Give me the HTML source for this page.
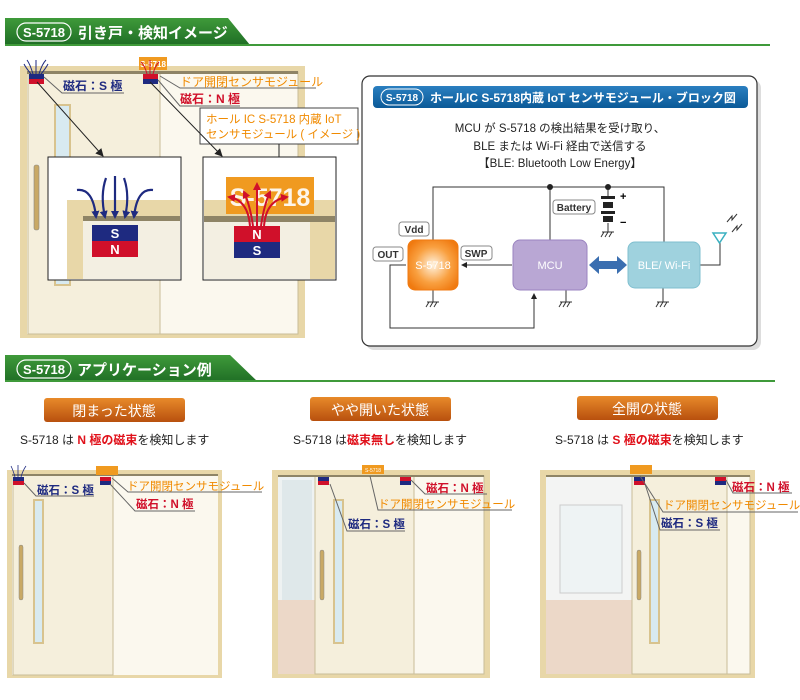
<!DOCTYPE html>
<html><head><meta charset="utf-8"><style>
html,body{margin:0;padding:0;background:#fff;width:800px;height:700px;overflow:hidden}
svg text{font-family:"Liberation Sans","Noto Sans CJK JP",sans-serif}
</style></head><body>
<svg width="800" height="700" viewBox="0 0 800 700" xmlns="http://www.w3.org/2000/svg">
<defs>
<linearGradient id="gh" x1="0" y1="0" x2="0" y2="1"><stop offset="0" stop-color="#3f9a3a"/><stop offset="1" stop-color="#1f6e25"/></linearGradient>
<linearGradient id="bt" x1="0" y1="0" x2="0" y2="1"><stop offset="0" stop-color="#e88a2a"/><stop offset="1" stop-color="#b8500e"/></linearGradient>
<linearGradient id="bl" x1="0" y1="0" x2="0" y2="1"><stop offset="0" stop-color="#2a7fc0"/><stop offset="1" stop-color="#0b5a98"/></linearGradient>
<radialGradient id="og" cx="0.5" cy="0.5" r="0.6"><stop offset="0" stop-color="#fff3e0"/><stop offset="0.6" stop-color="#f9a040"/><stop offset="1" stop-color="#f07a10"/></radialGradient>
<marker id="ar" markerWidth="8" markerHeight="8" refX="7" refY="4" orient="auto" markerUnits="userSpaceOnUse"><path d="M0,0 L8,4 L0,8z" fill="#222"/></marker>
<marker id="ab" markerWidth="8" markerHeight="8" refX="6" refY="4" orient="auto" markerUnits="userSpaceOnUse"><path d="M0,0 L8,4 L0,8z" fill="#1e2a80"/></marker>
<marker id="arr" markerWidth="8" markerHeight="8" refX="6" refY="4" orient="auto" markerUnits="userSpaceOnUse"><path d="M0,0 L8,4 L0,8z" fill="#d0102a"/></marker>
</defs>

<!-- Header 1 -->
<path d="M5,18 H228 L250,45 H5z" fill="url(#gh)"/>
<rect x="5" y="44" width="765" height="2" fill="#3f9a3a"/>
<rect x="17" y="23" width="54" height="18" rx="9" fill="none" stroke="#fff" stroke-width="1.2"/>
<text x="44" y="37" font-size="13" font-weight="bold" fill="#fff" text-anchor="middle">S-5718</text>
<text x="78" y="38" font-size="15" font-weight="bold" fill="#fff">引き戸・検知イメージ</text>

<!-- Top door -->
<rect x="20" y="66" width="285" height="272" fill="#e8d7a8"/>
<rect x="27" y="72" width="271" height="262" fill="#faf6ea"/>
<rect x="28" y="72" width="132" height="262" fill="#f5efdc" stroke="#c9bd98" stroke-width="1"/>
<rect x="160" y="72" width="138" height="262" fill="#fbf8ee" stroke="#c9bd98" stroke-width="1"/>
<rect x="55" y="105" width="15" height="180" fill="#d8eaf0" stroke="#d8c38e" stroke-width="2"/>
<rect x="34" y="165" width="5" height="65" rx="2" fill="#c9a965" stroke="#888" stroke-width="0.6"/>
<rect x="27" y="71" width="271" height="3" fill="#8e8466"/>
<rect x="29" y="74" width="15" height="5" fill="#1e2a80"/><rect x="29" y="79" width="15" height="5" fill="#d0102a"/>
<rect x="143" y="74" width="15" height="5" fill="#d0102a"/><rect x="143" y="79" width="15" height="5" fill="#1e2a80"/>
<rect x="139" y="57" width="28" height="13" fill="#f09a20"/>
<text x="153" y="67" font-size="8" font-weight="bold" fill="#fff" text-anchor="middle">S-5718</text>
<g stroke="#1e2a80" stroke-width="1" fill="none"><path d="M36,74 V60 M33,74 Q30,64 27,60 M39,74 Q42,64 46,60 M31,74 Q26,68 24,64 M41,74 Q46,68 48,64"/></g>
<g stroke="#d0102a" stroke-width="1" fill="none"><path d="M150,74 V60 M147,74 Q145,66 141,62 M153,74 Q155,66 159,62"/></g>
<path d="M44,77 L62,93 H124" stroke="#666" fill="none"/>
<text x="63" y="90" font-size="12" font-weight="bold" fill="#1e2a80">磁石：S 極</text>
<path d="M160,76 L180,88 H316" stroke="#666" fill="none"/>
<text x="180" y="86" font-size="12" fill="#f08a00">ドア開閉センサモジュール</text>
<path d="M158,80 L180,106 H240" stroke="#666" fill="none"/>
<text x="180" y="103" font-size="12" font-weight="bold" fill="#d0102a">磁石：N 極</text>
<rect x="200" y="108" width="158" height="36" fill="#fff" stroke="#444"/>
<text x="206" y="123" font-size="11.5" fill="#f08a00">ホール IC  S-5718 内蔵 IoT</text>
<text x="206" y="138" font-size="11.5" fill="#f08a00">センサモジュール ( イメージ )</text>
<line x1="37" y1="82" x2="103" y2="156" stroke="#222" marker-end="url(#ar)"/>
<line x1="150" y1="82" x2="222" y2="156" stroke="#222" marker-end="url(#ar)"/>
<line x1="279" y1="144" x2="279" y2="175" stroke="#222" marker-end="url(#ar)"/>
<!-- inset left -->
<rect x="48" y="157" width="133" height="123" fill="#fff" stroke="#222"/>
<rect x="67" y="200" width="113" height="79" fill="#e8d7a8"/>
<rect x="83" y="219" width="97" height="60" fill="#f3efe2"/>
<rect x="83" y="216" width="97" height="5" fill="#8e8466"/>
<rect x="92" y="225" width="46" height="16" fill="#1e2a80"/><rect x="92" y="241" width="46" height="16" fill="#d0102a"/>
<text x="115" y="238" font-size="13" font-weight="bold" fill="#fff" text-anchor="middle">S</text>
<text x="115" y="254" font-size="13" font-weight="bold" fill="#fff" text-anchor="middle">N</text>
<g stroke="#1e2a80" stroke-width="2.2" fill="none">
<path d="M115,176 V217" marker-end="url(#ab)"/>
<path d="M106,178 Q100,195 105,217" marker-end="url(#ab)"/>
<path d="M124,178 Q130,195 125,217" marker-end="url(#ab)"/>
<path d="M77,190 Q93,188 96,217" marker-end="url(#ab)"/>
<path d="M153,190 Q137,188 134,217" marker-end="url(#ab)"/>
</g>
<!-- inset right -->
<rect x="203" y="157" width="133" height="123" fill="#fff" stroke="#222"/>
<rect x="204" y="200" width="131" height="79" fill="#e8d7a8"/>
<rect x="204" y="218" width="106" height="61" fill="#f3efe2"/>
<rect x="204" y="216" width="131" height="6" fill="#8e8466"/>
<rect x="226" y="177" width="88" height="37" fill="#f09a20"/>
<text x="270" y="206" font-size="25" font-weight="bold" fill="#fff" text-anchor="middle" opacity="0.9">S-5718</text>
<rect x="234" y="226" width="46" height="16" fill="#d0102a"/><rect x="234" y="242" width="46" height="16" fill="#1e2a80"/>
<text x="257" y="239" font-size="13" font-weight="bold" fill="#fff" text-anchor="middle">N</text>
<text x="257" y="255" font-size="13" font-weight="bold" fill="#fff" text-anchor="middle">S</text>
<g stroke="#d0102a" stroke-width="2" fill="none">
<path d="M257,226 V184" marker-end="url(#arr)"/>
<path d="M250,226 Q248,200 229,197" marker-end="url(#arr)"/>
<path d="M264,226 Q266,200 287,197" marker-end="url(#arr)"/>
<path d="M253,226 Q250,205 244,192" marker-end="url(#arr)"/>
<path d="M261,226 Q264,205 270,192" marker-end="url(#arr)"/>
</g>

<!-- Block diagram -->
<rect x="366" y="80" width="395" height="270" rx="8" fill="#bbb" opacity="0.5"/>
<rect x="362" y="76" width="395" height="270" rx="8" fill="#fff" stroke="#333" stroke-width="1.2"/>
<rect x="373" y="86" width="375" height="22" rx="4" fill="url(#bl)"/>
<rect x="381" y="89" width="42" height="16" rx="8" fill="none" stroke="#fff"/>
<text x="402" y="101" font-size="10" font-weight="bold" fill="#fff" text-anchor="middle">S-5718</text>
<text x="430" y="102" font-size="12" font-weight="bold" fill="#fff">ホールIC S-5718内蔵 IoT センサモジュール・ブロック図</text>
<text x="560" y="132" font-size="11.5" fill="#222" text-anchor="middle">MCU が S-5718 の検出結果を受け取り、</text>
<text x="560" y="150" font-size="11.5" fill="#222" text-anchor="middle">BLE または Wi-Fi 経由で送信する</text>
<text x="560" y="167" font-size="11.5" fill="#222" text-anchor="middle">【BLE: Bluetooth Low Energy】</text>
<g stroke="#333" stroke-width="1" fill="none">
<path d="M433,244 V187 H664 V244"/>
<path d="M550,187 V244"/>
<path d="M608,187 V198 M608,223 V232"/>
<path d="M406,265 H390 V328 H534 V295"/>
<path d="M512,265 H465"/>
<path d="M700,265 H720 V243"/>
<path d="M433,290 V302 M566,290 V302 M663,288 V302"/>
</g>
<path d="M534,293 l-3,6 h6z" fill="#222"/>
<path d="M461,265 l6,-3 v6z" fill="#222"/>
<circle cx="550" cy="187" r="3" fill="#222"/><circle cx="608" cy="187" r="3" fill="#222"/>
<rect x="601" y="196" width="14" height="3" fill="#222"/><rect x="603" y="202" width="10" height="6" fill="#222"/>
<rect x="601" y="211" width="14" height="3" fill="#222"/><rect x="603" y="216" width="10" height="6" fill="#222"/>
<text x="620" y="200" font-size="11" font-weight="bold">+</text><text x="620" y="226" font-size="11" font-weight="bold">−</text>
<g stroke="#333" fill="none"><path d="M427,302 h12 M429,302 l-3,5 M433,302 l-3,5 M437,302 l-3,5"/><path d="M560,302 h12 M562,302 l-3,5 M566,302 l-3,5 M570,302 l-3,5"/><path d="M657,302 h12 M659,302 l-3,5 M663,302 l-3,5 M667,302 l-3,5"/><path d="M602,232 h12 M604,232 l-3,5 M608,232 l-3,5 M612,232 l-3,5"/></g>
<rect x="553" y="200" width="42" height="14" rx="3" fill="#fff" stroke="#888"/><text x="574" y="211" font-size="10" font-weight="bold" text-anchor="middle" fill="#333">Battery</text>
<rect x="399" y="222" width="30" height="14" rx="3" fill="#fff" stroke="#888"/><text x="414" y="233" font-size="10" font-weight="bold" text-anchor="middle" fill="#333">Vdd</text>
<rect x="373" y="247" width="30" height="14" rx="3" fill="#fff" stroke="#888"/><text x="388" y="258" font-size="10" font-weight="bold" text-anchor="middle" fill="#333">OUT</text>
<rect x="461" y="246" width="31" height="14" rx="3" fill="#fff" stroke="#888"/><text x="476" y="257" font-size="10" font-weight="bold" text-anchor="middle" fill="#333">SWP</text>
<rect x="408" y="240" width="50" height="50" rx="7" fill="url(#og)" stroke="#f07a10"/>
<text x="433" y="269" font-size="11" fill="#fff" text-anchor="middle">S-5718</text>
<rect x="513" y="240" width="74" height="50" rx="7" fill="#b9a7d4" stroke="#9a83c0"/>
<text x="550" y="269" font-size="11" fill="#fff" text-anchor="middle">MCU</text>
<rect x="628" y="242" width="72" height="46" rx="7" fill="#9fd2de" stroke="#7fbfcf"/>
<text x="664" y="269" font-size="11" fill="#fff" text-anchor="middle">BLE/ Wi-Fi</text>
<path d="M589,265 l10,-9 v5 h18 v-5 l10,9 l-10,9 v-5 h-18 v5z" fill="#3a6eb0"/>
<path d="M713,233 h13 l-6.5,10z" fill="none" stroke="#3ab0c0" stroke-width="1.5"/>
<path d="M727,222 l5,-6 l0,4 l5,-6 M732,232 l5,-6 l0,4 l5,-6" stroke="#333" fill="none"/>

<!-- Header 2 -->
<path d="M5,355 H230 L258,382 H5z" fill="url(#gh)"/>
<rect x="5" y="380" width="770" height="2" fill="#3f9a3a"/>
<rect x="17" y="360" width="54" height="18" rx="9" fill="none" stroke="#fff" stroke-width="1.2"/>
<text x="44" y="374" font-size="13" font-weight="bold" fill="#fff" text-anchor="middle">S-5718</text>
<text x="77" y="375" font-size="15" font-weight="bold" fill="#fff">アプリケーション例</text>

<rect x="44" y="398" width="141" height="24" rx="3" fill="url(#bt)"/>
<text x="114" y="416" font-size="14" fill="#fff" text-anchor="middle">閉まった状態</text>
<rect x="310" y="397" width="141" height="24" rx="3" fill="url(#bt)"/>
<text x="380" y="415" font-size="14" fill="#fff" text-anchor="middle">やや開いた状態</text>
<rect x="577" y="396" width="141" height="24" rx="3" fill="url(#bt)"/>
<text x="647" y="414" font-size="14" fill="#fff" text-anchor="middle">全開の状態</text>
<text x="20" y="444" font-size="12" fill="#222">S-5718 は <tspan fill="#e0101a" font-weight="bold">N 極の磁束</tspan>を検知します</text>
<text x="293" y="444" font-size="12" fill="#222">S-5718 は<tspan fill="#e0101a" font-weight="bold">磁束無し</tspan>を検知します</text>
<text x="555" y="444" font-size="12" fill="#222">S-5718 は <tspan fill="#e0101a" font-weight="bold">S 極の磁束</tspan>を検知します</text>

<!-- Door 1 -->
<rect x="7" y="470" width="215" height="208" fill="#e8d7a8"/>
<rect x="12" y="475" width="206" height="200" fill="#fbf8ee"/>
<rect x="13" y="475" width="100" height="200" fill="#f5efdc" stroke="#c9bd98"/>
<rect x="34" y="500" width="9" height="143" fill="#d8eaf0" stroke="#d8c38e" stroke-width="2"/>
<rect x="19" y="545" width="4" height="55" rx="2" fill="#c9a965" stroke="#888" stroke-width="0.5"/>
<rect x="12" y="474" width="206" height="2" fill="#8e8466"/>
<rect x="13" y="477" width="11" height="4" fill="#1e2a80"/><rect x="13" y="481" width="11" height="4" fill="#d0102a"/>
<rect x="100" y="477" width="11" height="4" fill="#d0102a"/><rect x="100" y="481" width="11" height="4" fill="#1e2a80"/>
<rect x="96" y="466" width="22" height="9" fill="#f09a20"/>
<g stroke="#1e2a80" fill="none" stroke-width="0.8"><path d="M18,477 V465 M15,477 Q13,470 11,466 M21,477 Q23,470 26,466"/></g>
<path d="M24,483 L36,496 H94" stroke="#666" fill="none"/>
<text x="37" y="494" font-size="11.5" font-weight="bold" fill="#1e2a80">磁石：S 極</text>
<path d="M112,478 L128,492 H262" stroke="#666" fill="none"/>
<text x="127" y="490" font-size="11.5" fill="#f08a00">ドア開閉センサモジュール</text>
<path d="M110,484 L135,511 H195" stroke="#666" fill="none"/>
<text x="136" y="508" font-size="11.5" font-weight="bold" fill="#d0102a">磁石：N 極</text>

<!-- Door 2 -->
<rect x="272" y="470" width="218" height="208" fill="#e8d7a8"/>
<rect x="278" y="476" width="206" height="198" fill="#eef2f2"/>
<rect x="278" y="600" width="37" height="74" fill="#ecd8c8"/>
<rect x="282" y="480" width="30" height="120" fill="#dfe8ea"/>
<rect x="315" y="476" width="99" height="198" fill="#f5efdc" stroke="#c9bd98"/>
<rect x="414" y="476" width="70" height="198" fill="#fbf8ee" stroke="#c9bd98"/>
<rect x="334" y="500" width="9" height="143" fill="#d8eaf0" stroke="#d8c38e" stroke-width="2"/>
<rect x="320" y="550" width="4" height="50" rx="2" fill="#c9a965" stroke="#888" stroke-width="0.5"/>
<rect x="278" y="475" width="206" height="2" fill="#8e8466"/>
<rect x="318" y="477" width="11" height="4" fill="#1e2a80"/><rect x="318" y="481" width="11" height="4" fill="#d0102a"/>
<rect x="400" y="477" width="11" height="4" fill="#d0102a"/><rect x="400" y="481" width="11" height="4" fill="#1e2a80"/>
<rect x="362" y="465" width="22" height="9" fill="#f09a20"/>
<text x="373" y="472" font-size="5" fill="#fff" text-anchor="middle">S-5718</text>
<path d="M330,484 L347,531 H405" stroke="#666" fill="none"/>
<text x="348" y="528" font-size="11.5" font-weight="bold" fill="#1e2a80">磁石：S 極</text>
<path d="M370,476 L378,510 H512" stroke="#666" fill="none"/>
<text x="378" y="508" font-size="11.5" fill="#f08a00">ドア開閉センサモジュール</text>
<path d="M411,480 L425,494 H487" stroke="#666" fill="none"/>
<text x="426" y="492" font-size="11.5" font-weight="bold" fill="#d0102a">磁石：N 極</text>

<!-- Door 3 -->
<rect x="540" y="470" width="215" height="208" fill="#e8d7a8"/>
<rect x="546" y="476" width="204" height="198" fill="#f3f4f3"/>
<rect x="546" y="600" width="86" height="74" fill="#ecd8c8"/>
<rect x="560" y="505" width="62" height="88" fill="#eef3f4" stroke="#ccc"/>
<rect x="632" y="476" width="95" height="198" fill="#f5efdc" stroke="#c9bd98"/>
<rect x="727" y="476" width="23" height="198" fill="#fbf8ee" stroke="#c9bd98"/>
<rect x="650" y="500" width="9" height="143" fill="#d8eaf0" stroke="#d8c38e" stroke-width="2"/>
<rect x="637" y="550" width="4" height="50" rx="2" fill="#c9a965" stroke="#888" stroke-width="0.5"/>
<rect x="546" y="475" width="204" height="2" fill="#8e8466"/>
<rect x="634" y="477" width="11" height="4" fill="#1e2a80"/><rect x="634" y="481" width="11" height="4" fill="#d0102a"/>
<rect x="715" y="477" width="11" height="4" fill="#d0102a"/><rect x="715" y="481" width="11" height="4" fill="#1e2a80"/>
<rect x="630" y="465" width="22" height="9" fill="#f09a20"/>
<path d="M645,484 L660,530 H720" stroke="#666" fill="none"/>
<text x="661" y="527" font-size="11.5" font-weight="bold" fill="#1e2a80">磁石：S 極</text>
<path d="M640,476 L663,512 H798" stroke="#666" fill="none"/>
<text x="663" y="509" font-size="11.5" fill="#f08a00">ドア開閉センサモジュール</text>
<path d="M726,480 L733,493 H792" stroke="#666" fill="none"/>
<text x="732" y="491" font-size="11.5" font-weight="bold" fill="#d0102a">磁石：N 極</text>
</svg>
</body></html>
